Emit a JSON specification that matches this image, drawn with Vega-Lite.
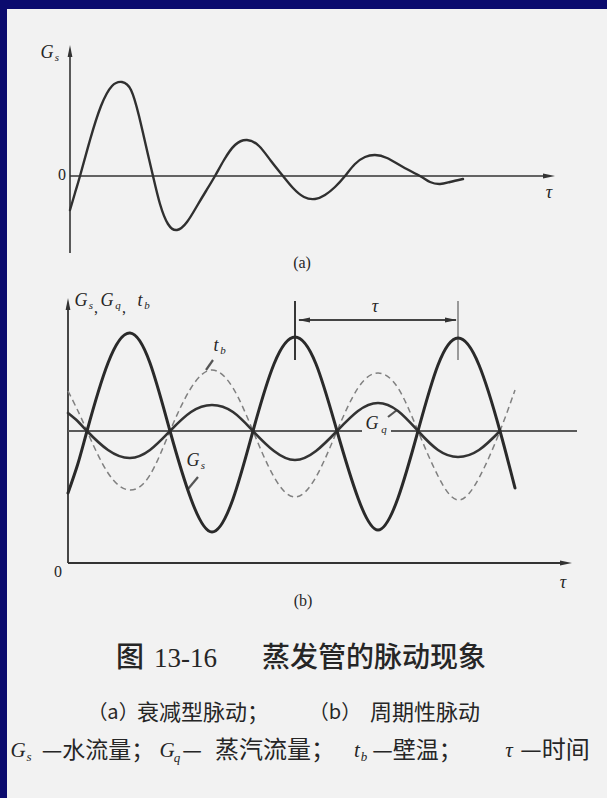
{
  "$schema": "https://vega.github.io/schema/vega-lite/v6.json",
  "width": 607,
  "height": 798,
  "autosize": {"type": "fit", "contains": "padding"},
  "padding": {"left": 7, "top": 9, "right": 0, "bottom": 0},
  "background": "#0b0b6e",
  "config": {"view": {"fill": "#f2f2f2", "stroke": null}},
  "datasets": {
    "curveA": [
      {"t": 0.00, "v": -0.34}, {"t": 0.05, "v": -0.17}, {"t": 0.10, "v": 0.00}, {"t": 0.20, "v": 0.36},
      {"t": 0.31, "v": 0.70}, {"t": 0.42, "v": 0.90}, {"t": 0.52, "v": 0.94}, {"t": 0.61, "v": 0.86},
      {"t": 0.69, "v": 0.60}, {"t": 0.76, "v": 0.30}, {"t": 0.83, "v": 0.00}, {"t": 0.90, "v": -0.28},
      {"t": 0.98, "v": -0.48}, {"t": 1.07, "v": -0.54}, {"t": 1.17, "v": -0.46}, {"t": 1.27, "v": -0.30},
      {"t": 1.36, "v": -0.15}, {"t": 1.45, "v": 0.00}, {"t": 1.54, "v": 0.16}, {"t": 1.65, "v": 0.31},
      {"t": 1.77, "v": 0.36}, {"t": 1.89, "v": 0.30}, {"t": 2.01, "v": 0.15}, {"t": 2.13, "v": 0.00},
      {"t": 2.23, "v": -0.12}, {"t": 2.34, "v": -0.21}, {"t": 2.45, "v": -0.23}, {"t": 2.55, "v": -0.19},
      {"t": 2.65, "v": -0.11}, {"t": 2.75, "v": 0.00}, {"t": 2.85, "v": 0.12}, {"t": 2.95, "v": 0.19},
      {"t": 3.05, "v": 0.21}, {"t": 3.17, "v": 0.18}, {"t": 3.33, "v": 0.09}, {"t": 3.50, "v": 0.00},
      {"t": 3.60, "v": -0.06}, {"t": 3.70, "v": -0.08}, {"t": 3.80, "v": -0.06}, {"t": 3.93, "v": -0.03}
    ],
    "rulesA": [
      {"t": 0, "v": -0.77, "t2": 0, "v2": 1.26},
      {"t": 0, "v": 0, "t2": 4.80, "v2": 0}
    ],
    "arrowsA": [
      {"t": 0, "v": 1.25, "dir": "up"},
      {"t": 4.79, "v": 0, "dir": "right"}
    ],
    "textA": [
      {"t": -0.23, "v": 1.23, "txt": "G", "k": "sym"},
      {"t": -0.13, "v": 1.18, "txt": "s", "k": "sub"},
      {"t": -0.08, "v": 0.01, "txt": "0", "k": "num"},
      {"t": 4.79, "v": -0.17, "txt": "τ", "k": "sym"},
      {"t": 2.32, "v": -0.87, "txt": "(a)", "k": "num"}
    ],
    "curveB": [
      {"s": "Gs", "t": 0.00, "v": 0.70}, {"s": "Gs", "t": 0.095, "v": 0.98}, {"s": "Gs", "t": 0.19, "v": 1.32},
      {"s": "Gs", "t": 0.40, "v": 2.00}, {"s": "Gs", "t": 0.62, "v": 2.30}, {"s": "Gs", "t": 0.82, "v": 2.00},
      {"s": "Gs", "t": 1.02, "v": 1.32}, {"s": "Gs", "t": 1.23, "v": 0.64}, {"s": "Gs", "t": 1.44, "v": 0.31},
      {"s": "Gs", "t": 1.65, "v": 0.64}, {"s": "Gs", "t": 1.85, "v": 1.32}, {"s": "Gs", "t": 2.06, "v": 1.99},
      {"s": "Gs", "t": 2.27, "v": 2.26}, {"s": "Gs", "t": 2.48, "v": 1.99}, {"s": "Gs", "t": 2.69, "v": 1.32},
      {"s": "Gs", "t": 2.90, "v": 0.65}, {"s": "Gs", "t": 3.10, "v": 0.33}, {"s": "Gs", "t": 3.30, "v": 0.65},
      {"s": "Gs", "t": 3.50, "v": 1.32}, {"s": "Gs", "t": 3.70, "v": 1.98}, {"s": "Gs", "t": 3.90, "v": 2.25},
      {"s": "Gs", "t": 4.11, "v": 1.98}, {"s": "Gs", "t": 4.32, "v": 1.32}, {"s": "Gs", "t": 4.47, "v": 0.75},

      {"s": "Gq", "t": 0.00, "v": 1.50}, {"s": "Gq", "t": 0.095, "v": 1.42}, {"s": "Gq", "t": 0.19, "v": 1.32},
      {"s": "Gq", "t": 0.40, "v": 1.13}, {"s": "Gq", "t": 0.62, "v": 1.05}, {"s": "Gq", "t": 0.82, "v": 1.13},
      {"s": "Gq", "t": 1.02, "v": 1.32}, {"s": "Gq", "t": 1.23, "v": 1.51}, {"s": "Gq", "t": 1.44, "v": 1.58},
      {"s": "Gq", "t": 1.65, "v": 1.51}, {"s": "Gq", "t": 1.85, "v": 1.32}, {"s": "Gq", "t": 2.06, "v": 1.12},
      {"s": "Gq", "t": 2.27, "v": 1.03}, {"s": "Gq", "t": 2.48, "v": 1.12}, {"s": "Gq", "t": 2.69, "v": 1.32},
      {"s": "Gq", "t": 2.90, "v": 1.52}, {"s": "Gq", "t": 3.10, "v": 1.60}, {"s": "Gq", "t": 3.30, "v": 1.52},
      {"s": "Gq", "t": 3.50, "v": 1.32}, {"s": "Gq", "t": 3.70, "v": 1.13}, {"s": "Gq", "t": 3.90, "v": 1.06},
      {"s": "Gq", "t": 4.11, "v": 1.13}, {"s": "Gq", "t": 4.32, "v": 1.32},

      {"s": "tb", "t": 0.00, "v": 1.72}, {"s": "tb", "t": 0.095, "v": 1.53}, {"s": "tb", "t": 0.19, "v": 1.32},
      {"s": "tb", "t": 0.40, "v": 0.90}, {"s": "tb", "t": 0.62, "v": 0.73}, {"s": "tb", "t": 0.82, "v": 0.88},
      {"s": "tb", "t": 1.02, "v": 1.32}, {"s": "tb", "t": 1.23, "v": 1.75}, {"s": "tb", "t": 1.44, "v": 1.93},
      {"s": "tb", "t": 1.65, "v": 1.75}, {"s": "tb", "t": 1.85, "v": 1.32}, {"s": "tb", "t": 2.06, "v": 0.86},
      {"s": "tb", "t": 2.27, "v": 0.66}, {"s": "tb", "t": 2.48, "v": 0.86}, {"s": "tb", "t": 2.69, "v": 1.32},
      {"s": "tb", "t": 2.90, "v": 1.75}, {"s": "tb", "t": 3.10, "v": 1.90}, {"s": "tb", "t": 3.30, "v": 1.75},
      {"s": "tb", "t": 3.50, "v": 1.32}, {"s": "tb", "t": 3.70, "v": 0.87}, {"s": "tb", "t": 3.90, "v": 0.63},
      {"s": "tb", "t": 4.11, "v": 0.85}, {"s": "tb", "t": 4.32, "v": 1.32}, {"s": "tb", "t": 4.47, "v": 1.73}
    ],
    "rulesB": [
      {"k": "axis", "t": 0, "v": 0, "t2": 0, "v2": 2.60},
      {"k": "axis", "t": 0, "v": 0, "t2": 4.98, "v2": 0},
      {"k": "mean", "t": 0, "v": 1.32, "t2": 2.94, "v2": 1.32},
      {"k": "mean", "t": 3.23, "v": 1.32, "t2": 5.09, "v2": 1.32},
      {"k": "tick", "t": 2.27, "v": 2.03, "t2": 2.27, "v2": 2.62},
      {"k": "tick2", "t": 3.90, "v": 2.03, "t2": 3.90, "v2": 2.62},
      {"k": "dim", "t": 2.31, "v": 2.43, "t2": 3.88, "v2": 2.43},
      {"k": "lead", "t": 1.45, "v": 2.03, "t2": 1.38, "v2": 1.93},
      {"k": "lead", "t": 1.30, "v": 0.86, "t2": 1.20, "v2": 0.74},
      {"k": "lead", "t": 3.20, "v": 1.46, "t2": 3.29, "v2": 1.53}
    ],
    "arrowsB": [
      {"t": 0, "v": 2.59, "dir": "up"},
      {"t": 4.98, "v": 0, "dir": "right"},
      {"t": 2.36, "v": 2.43, "dir": "left"},
      {"t": 3.83, "v": 2.43, "dir": "right"}
    ],
    "textB": [
      {"t": 0.13, "v": 2.62, "txt": "G", "k": "sym"},
      {"t": 0.23, "v": 2.57, "txt": "s", "k": "sub"},
      {"t": 0.28, "v": 2.55, "txt": ",", "k": "num"},
      {"t": 0.39, "v": 2.62, "txt": "G", "k": "sym"},
      {"t": 0.50, "v": 2.57, "txt": "q", "k": "sub"},
      {"t": 0.56, "v": 2.55, "txt": ",", "k": "num"},
      {"t": 0.72, "v": 2.62, "txt": "t", "k": "sym"},
      {"t": 0.79, "v": 2.57, "txt": "b", "k": "sub"},
      {"t": 1.48, "v": 2.17, "txt": "t", "k": "sym"},
      {"t": 1.55, "v": 2.12, "txt": "b", "k": "sub"},
      {"t": 1.25, "v": 1.02, "txt": "G", "k": "sym"},
      {"t": 1.35, "v": 0.97, "txt": "s", "k": "sub"},
      {"t": 3.04, "v": 1.39, "txt": "G", "k": "sym"},
      {"t": 3.16, "v": 1.33, "txt": "q", "k": "sub"},
      {"t": 3.07, "v": 2.56, "txt": "τ", "k": "sym"},
      {"t": 4.95, "v": -0.20, "txt": "τ", "k": "sym"},
      {"t": -0.10, "v": -0.09, "txt": "0", "k": "num"},
      {"t": 2.35, "v": -0.38, "txt": "(b)", "k": "num"},

      {"t": 0.62, "v": -0.96, "txt": "图", "k": "c28"},
      {"t": 1.175, "v": -0.96, "txt": "13-16", "k": "n27"},
      {"t": 3.06, "v": -0.96, "txt": "蒸发管的脉动现象", "k": "c28"},

      {"t": 0.45, "v": -1.50, "txt": "（a）", "k": "c20"},
      {"t": 1.35, "v": -1.50, "txt": "衰减型脉动；", "k": "c22"},
      {"t": 2.67, "v": -1.50, "txt": "（b）", "k": "c20"},
      {"t": 3.57, "v": -1.50, "txt": "周期性脉动", "k": "c22"},

      {"t": -0.50, "v": -1.88, "txt": "G", "k": "csym"},
      {"t": -0.39, "v": -1.94, "txt": "s", "k": "csub"},
      {"t": 0.30, "v": -1.88, "txt": "—水流量；", "k": "c23"},
      {"t": 0.99, "v": -1.88, "txt": "G", "k": "csym"},
      {"t": 1.09, "v": -1.95, "txt": "q", "k": "csub"},
      {"t": 1.24, "v": -1.88, "txt": "—", "k": "c22"},
      {"t": 2.07, "v": -1.88, "txt": "蒸汽流量；", "k": "c24"},
      {"t": 2.89, "v": -1.88, "txt": "t", "k": "csym"},
      {"t": 2.96, "v": -1.94, "txt": "b", "k": "csub"},
      {"t": 3.49, "v": -1.88, "txt": "—壁温；", "k": "c23"},
      {"t": 4.41, "v": -1.88, "txt": "τ", "k": "csym"},
      {"t": 4.87, "v": -1.88, "txt": "—时间", "k": "c24"}
    ]
  },
  "layer": [
    {
      "encoding": {
        "x": {"field": "t", "type": "quantitative", "axis": null, "scale": {"domain": [-0.63, 5.37], "nice": false, "zero": false}},
        "y": {"field": "v", "type": "quantitative", "axis": null, "scale": {"domain": [-6.22, 1.67], "nice": false, "zero": false}}
      },
      "layer": [
        {
          "data": {"name": "rulesA"},
          "mark": {"type": "rule", "color": "#333333", "strokeWidth": 1.6},
          "encoding": {"x2": {"field": "t2"}, "y2": {"field": "v2"}}
        },
        {
          "data": {"name": "arrowsA"},
          "mark": {"type": "point", "filled": true, "size": 144, "opacity": 1, "color": "#333333"},
          "encoding": {
            "shape": {"field": "dir", "type": "nominal", "legend": null,
              "scale": {"domain": ["up", "right", "left"], "range": ["M0,-1L0.4,1L-0.4,1Z", "M1,0L-1,-0.4L-1,0.4Z", "M-1,0L1,-0.4L1,0.4Z"]}}
          }
        },
        {
          "data": {"name": "curveA"},
          "mark": {"type": "line", "interpolate": "natural", "color": "#303030", "strokeWidth": 2.4, "strokeCap": "round"}
        },
        {
          "data": {"name": "textA"},
          "transform": [{"filter": "datum.k === 'sym'"}],
          "mark": {"type": "text", "font": "Liberation Serif", "fontStyle": "italic", "fontSize": 18, "fill": "#262626", "align": "center", "baseline": "middle"},
          "encoding": {"text": {"field": "txt"}}
        },
        {
          "data": {"name": "textA"},
          "transform": [{"filter": "datum.k === 'sub'"}],
          "mark": {"type": "text", "font": "Liberation Serif", "fontStyle": "italic", "fontSize": 11, "fill": "#262626", "align": "center", "baseline": "middle"},
          "encoding": {"text": {"field": "txt"}}
        },
        {
          "data": {"name": "textA"},
          "transform": [{"filter": "datum.k === 'num'"}],
          "mark": {"type": "text", "font": "Liberation Serif", "fontSize": 16, "fill": "#262626", "align": "center", "baseline": "middle"},
          "encoding": {"text": {"field": "txt"}}
        }
      ]
    },
    {
      "encoding": {
        "x": {"field": "t", "type": "quantitative", "axis": null, "scale": {"domain": [-0.61, 5.39], "nice": false, "zero": false}},
        "y": {"field": "v", "type": "quantitative", "axis": null, "scale": {"domain": [-2.35, 5.54], "nice": false, "zero": false}}
      },
      "layer": [
        {
          "data": {"name": "rulesB"},
          "mark": {"type": "rule"},
          "encoding": {
            "x2": {"field": "t2"},
            "y2": {"field": "v2"},
            "color": {"field": "k", "type": "nominal", "legend": null,
              "scale": {"domain": ["axis", "mean", "tick", "tick2", "dim", "lead"], "range": ["#333333", "#5a5a5a", "#333333", "#9a9a9a", "#444444", "#555555"]}},
            "strokeWidth": {"field": "k", "type": "nominal", "legend": null,
              "scale": {"domain": ["axis", "mean", "tick", "tick2", "dim", "lead"], "range": [1.8, 2.2, 1.8, 1.8, 1.4, 1.1]}}
          }
        },
        {
          "data": {"name": "arrowsB"},
          "mark": {"type": "point", "filled": true, "size": 144, "opacity": 1, "color": "#333333"},
          "encoding": {
            "shape": {"field": "dir", "type": "nominal", "legend": null,
              "scale": {"domain": ["up", "right", "left"], "range": ["M0,-1L0.4,1L-0.4,1Z", "M1,0L-1,-0.4L-1,0.4Z", "M-1,0L1,-0.4L1,0.4Z"]}}
          }
        },
        {
          "data": {"name": "curveB"},
          "transform": [{"filter": "datum.s === 'tb'"}],
          "mark": {"type": "line", "interpolate": "natural", "color": "#808080", "strokeWidth": 1.5, "strokeDash": [6, 4]}
        },
        {
          "data": {"name": "curveB"},
          "transform": [{"filter": "datum.s === 'Gq'"}],
          "mark": {"type": "line", "interpolate": "natural", "color": "#333333", "strokeWidth": 2.6, "strokeCap": "round"}
        },
        {
          "data": {"name": "curveB"},
          "transform": [{"filter": "datum.s === 'Gs'"}],
          "mark": {"type": "line", "interpolate": "natural", "color": "#2a2a2a", "strokeWidth": 3, "strokeCap": "round"}
        },
        {
          "data": {"name": "textB"},
          "transform": [{"filter": "datum.k === 'sym'"}],
          "mark": {"type": "text", "font": "Liberation Serif", "fontStyle": "italic", "fontSize": 18, "fill": "#262626", "align": "center", "baseline": "middle"},
          "encoding": {"text": {"field": "txt"}}
        },
        {
          "data": {"name": "textB"},
          "transform": [{"filter": "datum.k === 'sub'"}],
          "mark": {"type": "text", "font": "Liberation Serif", "fontStyle": "italic", "fontSize": 11, "fill": "#262626", "align": "center", "baseline": "middle"},
          "encoding": {"text": {"field": "txt"}}
        },
        {
          "data": {"name": "textB"},
          "transform": [{"filter": "datum.k === 'num'"}],
          "mark": {"type": "text", "font": "Liberation Serif", "fontSize": 16, "fill": "#262626", "align": "center", "baseline": "middle"},
          "encoding": {"text": {"field": "txt"}}
        },
        {
          "data": {"name": "textB"},
          "transform": [{"filter": "datum.k === 'c28'"}],
          "mark": {"type": "text", "font": "Noto Sans CJK SC", "fontSize": 28, "fontWeight": 500, "fill": "#262626", "align": "center", "baseline": "middle"},
          "encoding": {"text": {"field": "txt"}}
        },
        {
          "data": {"name": "textB"},
          "transform": [{"filter": "datum.k === 'n27'"}],
          "mark": {"type": "text", "font": "Liberation Serif", "fontSize": 27, "fill": "#262626", "align": "center", "baseline": "middle"},
          "encoding": {"text": {"field": "txt"}}
        },
        {
          "data": {"name": "textB"},
          "transform": [{"filter": "datum.k === 'c20'"}],
          "mark": {"type": "text", "font": "Noto Sans CJK SC", "fontSize": 20, "fill": "#262626", "align": "center", "baseline": "middle"},
          "encoding": {"text": {"field": "txt"}}
        },
        {
          "data": {"name": "textB"},
          "transform": [{"filter": "datum.k === 'c22'"}],
          "mark": {"type": "text", "font": "Noto Sans CJK SC", "fontSize": 22, "fill": "#262626", "align": "center", "baseline": "middle"},
          "encoding": {"text": {"field": "txt"}}
        },
        {
          "data": {"name": "textB"},
          "transform": [{"filter": "datum.k === 'c23'"}],
          "mark": {"type": "text", "font": "Noto Sans CJK SC", "fontSize": 23, "fill": "#262626", "align": "center", "baseline": "middle"},
          "encoding": {"text": {"field": "txt"}}
        },
        {
          "data": {"name": "textB"},
          "transform": [{"filter": "datum.k === 'c24'"}],
          "mark": {"type": "text", "font": "Noto Sans CJK SC", "fontSize": 24, "fill": "#262626", "align": "center", "baseline": "middle"},
          "encoding": {"text": {"field": "txt"}}
        },
        {
          "data": {"name": "textB"},
          "transform": [{"filter": "datum.k === 'csym'"}],
          "mark": {"type": "text", "font": "Liberation Serif", "fontStyle": "italic", "fontSize": 21, "fill": "#262626", "align": "center", "baseline": "middle"},
          "encoding": {"text": {"field": "txt"}}
        },
        {
          "data": {"name": "textB"},
          "transform": [{"filter": "datum.k === 'csub'"}],
          "mark": {"type": "text", "font": "Liberation Serif", "fontStyle": "italic", "fontSize": 13, "fill": "#262626", "align": "center", "baseline": "middle"},
          "encoding": {"text": {"field": "txt"}}
        }
      ]
    }
  ],
  "resolve": {"scale": {"x": "independent", "y": "independent"}}
}
